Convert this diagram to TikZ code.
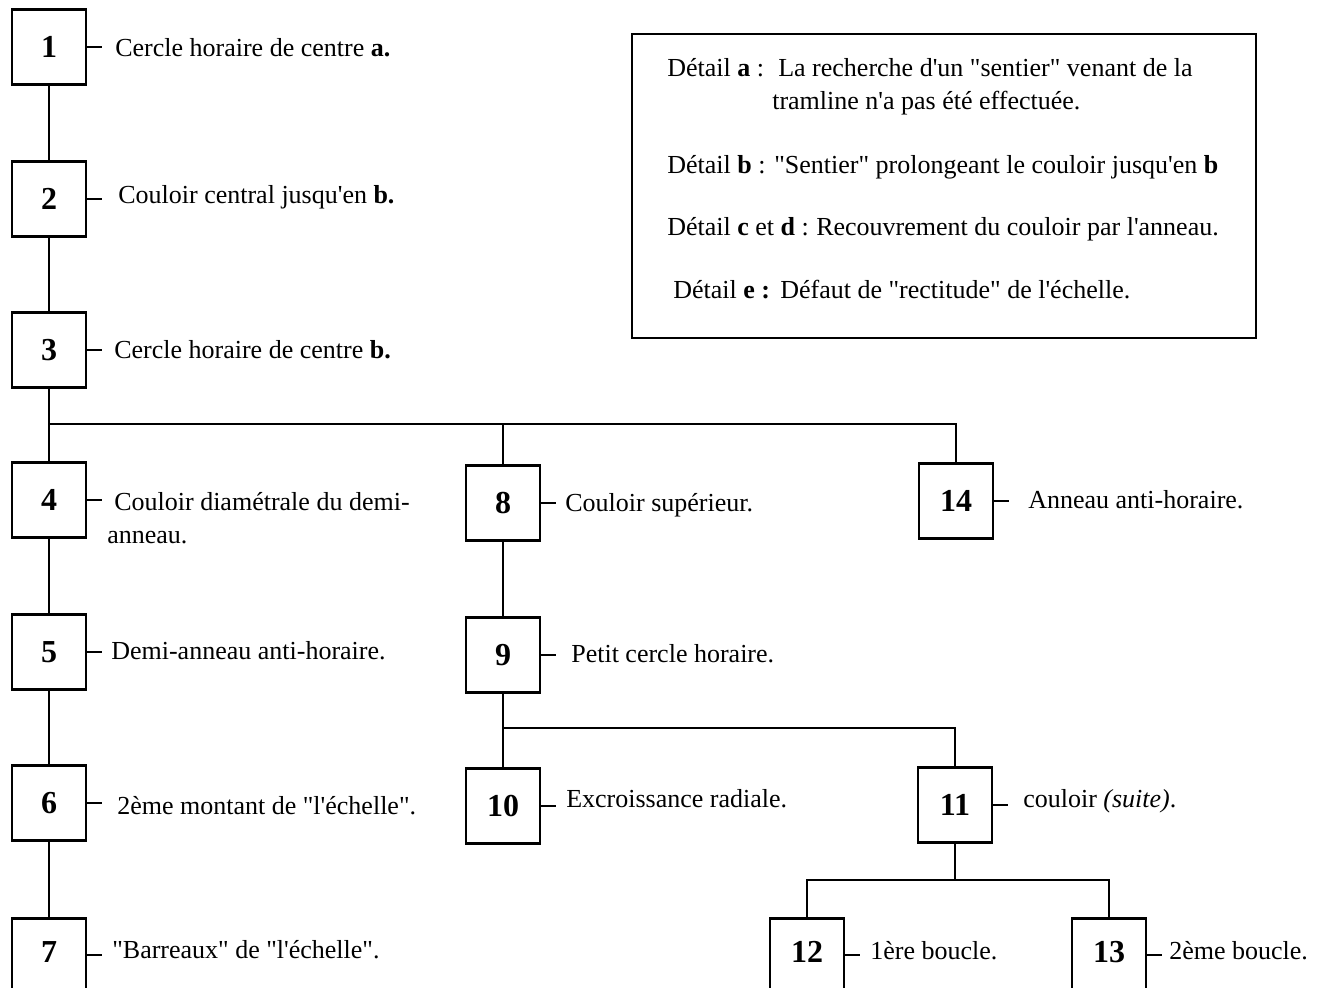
\documentclass[tikz,border=0pt]{standalone}
\usepackage{fontspec}
\setmainfont{Liberation Serif}[Ligatures=TeXOff]
\usepackage{tikz}

\begin{document}
\begin{tikzpicture}[x=0.5pt, y=-0.5pt, line width=1.3pt,
    box/.style={draw, line width=1.3pt, minimum width=37pt, minimum height=37.5pt,
        inner sep=0pt, font=\fontsize{16}{18}\selectfont\bfseries},
    tallbox/.style={box, anchor=north, text height=22pt, text depth=60pt},
    lbl/.style={anchor=base west, inner sep=0pt, font=\fontsize{13}{15.6}\selectfont}]
    % Page size, the lower boxes are cut by the page edge
    \useasboundingbox (0,0) rectangle (1324,987);
    \clip (0,0) rectangle (1324,987);

    % Step boxes
    \foreach \n/\px/\py in {1/49/47, 2/49/199, 3/49/350, 4/49/500, 5/49/652, 6/49/803,
                            8/503/503, 9/503/655, 10/503/806, 11/955/805, 14/956/501} {
        \node[box] (b\n) at (\px,\py) {\n};
    }
    \node[tallbox] (b7) at (49,917) {7};
    \node[tallbox] (b12) at (807,917) {12};
    \node[tallbox] (b13) at (1109,917) {13};

    % Branching points
    \coordinate (j1) at (49,424);
    \coordinate (j2) at (503,728);
    \coordinate (j3) at (955,880);

    % Connections
    \draw (b1) -- (b2);
    \draw (b2) -- (b3);
    \draw (b3) -- (b4);
    \draw (b4) -- (b5);
    \draw (b5) -- (b6);
    \draw (b6) -- (b7);
    \draw (j1) -| (b8.north);
    \draw (j1) -| (b14.north);
    \draw (b8) -- (b9);
    \draw (b9) -- (b10);
    \draw (j2) -| (b11.north);
    \draw (b11) -- (j3);
    \draw (j3) -| (b12.north);
    \draw (j3) -| (b13.north);

    % Small ticks towards the labels
    \foreach \n in {1,2,3,4,5,6,8,9,10,11,14} {
        \draw (b\n.east) -- ++(15,0);
    }
    \foreach \n in {7,12,13} {
        \draw ([yshift=-19pt]b\n.north east) -- ++(15,0);
    }

    % Labels
    \node[lbl] (l1) at (114,56) {Cercle horaire de centre \textbf{a.}};
    \node[lbl] (l2) at (117,203) {Couloir central jusqu'en \textbf{b.}};
    \node[lbl] (l3) at (113,358) {Cercle horaire de centre \textbf{b.}};
    \node[lbl] (l4) at (113,510) {Couloir diamétrale du demi-};
    \node[lbl] (l4b) at (106,543) {anneau.};
    \node[lbl] (l5) at (110,659) {Demi-anneau anti-horaire.};
    \node[lbl] (l6) at (116,814) {2ème montant de "l'échelle".};
    \node[lbl] (l7) at (111,958) {"Barreaux" de "l'échelle".};
    \node[lbl] (l8) at (564,511) {Couloir supérieur.};
    \node[lbl] (l9) at (570,662) {Petit cercle horaire.};
    \node[lbl] (l10) at (565,807) {Excroissance radiale.};
    \node[lbl] (l11) at (1022,807) {couloir \textit{(suite)}.};
    \node[lbl] (l12) at (869,959) {1ère boucle.};
    \node[lbl] (l13) at (1168,959) {2ème boucle.};
    \node[lbl] (l14) at (1027,508) {Anneau anti-horaire.};

    % Legend
    \node[draw, minimum width=312pt, minimum height=152pt, inner sep=0pt] (legend) at (944,186) {};
    \node[lbl] (ka) at (666,76) {Détail \textbf{a} :};
    \node[lbl] (ta) at (777,76) {La recherche d'un "sentier" venant de la};
    \node[lbl] (ta2) at (771,109) {tramline n'a pas été effectuée.};
    \node[lbl] (kb) at (666,173) {Détail \textbf{b} :};
    \node[lbl] (tb) at (773,173) {"Sentier" prolongeant le couloir jusqu'en \textbf{b}};
    \node[lbl] (kc) at (666,235) {Détail \textbf{c} et \textbf{d} :};
    \node[lbl] (tc) at (815,235) {Recouvrement du couloir par l'anneau.};
    \node[lbl] (ke) at (672,298) {Détail \textbf{e :}};
    \node[lbl] (te) at (779,298) {Défaut de "rectitude" de l'échelle.};
\end{tikzpicture}
\end{document}
